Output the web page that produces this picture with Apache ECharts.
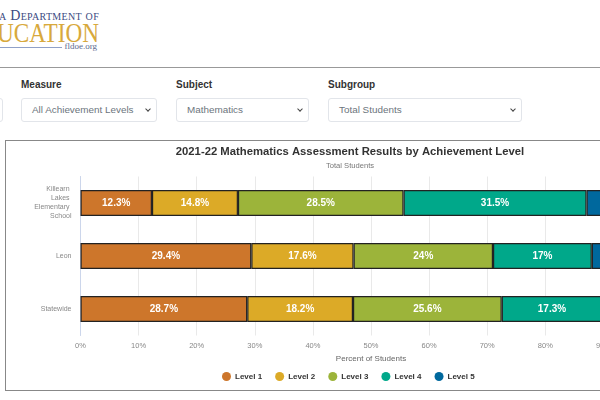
<!DOCTYPE html>
<html>
<head>
<meta charset="utf-8">
<script src="https://cdn.jsdelivr.net/npm/echarts@6/dist/echarts.min.js"></script>
<style>
  html, body { margin: 0; height: 100%; overflow: hidden; background: #fff; font-family: "Liberation Sans", Arial, sans-serif; }
  .abs { position: absolute; white-space: nowrap; }
  .logo { font-family: "Liberation Serif", serif; left: -300px; width: 399px; text-align: right; }
  .rule { position: absolute; left: 0; width: 600px; height: 1px; background: #999; }
  .lbl { font-size: 10px; font-weight: bold; color: #333; top: 79px; }
  .sel { top: 98px; height: 24px; box-sizing: border-box; border: 1px solid #e2e5ea; border-radius: 3px;
         font-size: 9.9px; line-height: 22px; padding-left: 10px; color: #6c757d; background: #fff; }
  .sel:after { content: ""; position: absolute; right: 6px; top: 8px; width: 3px; height: 3px;
         border-right: 1.2px solid #444; border-bottom: 1.2px solid #444; transform: rotate(45deg); }
  #frame { position: absolute; left: 5px; top: 140px; width: 720px; height: 251px; box-sizing: border-box; border: 1.5px solid #888; }
  #chart { position: absolute; left: 6px; top: 142px; width: 688px; height: 248px; }
</style>
</head>
<body>
<div class="abs logo" style="top:8px;font-size:14px;font-variant:small-caps;color:#3b4a82;letter-spacing:.3px">Florida Department of</div>
<div class="abs logo" style="top:18px;font-size:27px;color:#d8a93c;transform:scaleX(.86);transform-origin:right center">EDUCATION</div>
<div class="abs" style="left:0;top:47px;width:62px;height:1px;background:#8fa0c8"></div>
<div class="abs logo" style="top:41px;left:-302px;font-size:9px;color:#5a6a90">fldoe.org</div>
<div class="rule" style="top:67px"></div>

<div class="abs lbl" style="left:21px">Measure</div>
<div class="abs lbl" style="left:176px">Subject</div>
<div class="abs lbl" style="left:328px">Subgroup</div>
<div class="abs sel" style="left:-60px;width:63px"></div>
<div class="abs sel" style="left:21px;width:136px">All Achievement Levels</div>
<div class="abs sel" style="left:176px;width:133px">Mathematics</div>
<div class="abs sel" style="left:328px;width:194px">Total Students</div>

<div id="frame"></div>
<div id="chart"></div>

<script>
const categories = ['Killearn Lakes Elementary School', 'Leon', 'Statewide'];
const level1 = [12.3, 29.4, 28.7];
const level2 = [14.8, 17.6, 18.2];
const level3 = [28.5, 24, 25.6];
const level4 = [31.5, 17, 17.3];
const level5 = [12.9, 12, 10.2];
const levelNames = ['Level 1', 'Level 2', 'Level 3', 'Level 4', 'Level 5'];
const levelColors = ['#cd762b', '#dcaa27', '#9cb43a', '#00a88a', '#00689d'];

const chart = echarts.init(document.getElementById('chart'));

const series = [level1, level2, level3, level4, level5].map((vals, i) => ({
  name: levelNames[i],
  type: 'bar',
  stack: 'total',
  barWidth: 26,
  data: vals,
  itemStyle: { color: levelColors[i], borderColor: '#222', borderWidth: 1.2 },
  label: {
    show: true,
    position: 'inside',
    formatter: p => p.value + '%',
    color: '#fff',
    fontSize: 10,
    fontWeight: 'bold',
    fontFamily: 'Liberation Sans'
  }
}));

chart.setOption({
  animation: false,
  textStyle: { fontFamily: 'Liberation Sans' },
  title: {
    text: '2021-22 Mathematics Assessment Results by Achievement Level',
    subtext: 'Total Students',
    left: 'center',
    top: -1,
    itemGap: 5,
    textStyle: { fontSize: 11.3, fontWeight: 'bold', color: '#333' },
    subtextStyle: { fontSize: 7.6, color: '#777' }
  },
  legend: {
    data: levelNames,
    left: 211,
    top: 225,
    icon: 'circle',
    itemWidth: 9,
    itemHeight: 9,
    itemGap: 13,
    itemStyle: { borderWidth: 0 },
    textStyle: { fontSize: 8, fontWeight: 'bold', color: '#333', padding: [0, 0, 0, -1] }
  },
  grid: { left: 74.5, top: 34.5, width: 581, height: 159 },
  xAxis: {
    type: 'value',
    min: 0,
    max: 100,
    interval: 10,
    name: 'Percent of Students',
    nameLocation: 'middle',
    nameGap: 15,
    nameTextStyle: { fontSize: 8, color: '#666' },
    axisLine: { show: false },
    axisTick: { show: false },
    axisLabel: { formatter: '{value}%', fontSize: 7.5, color: '#888', margin: 6 },
    splitLine: { lineStyle: { color: '#e9e9e9', width: 1 } }
  },
  yAxis: {
    type: 'category',
    inverse: true,
    data: categories,
    axisLine: { lineStyle: { color: '#ccd6eb', width: 1 } },
    axisTick: { show: false },
    axisLabel: {
      fontSize: 7,
      color: '#888',
      margin: 9,
      width: 40,
      overflow: 'break',
      align: 'right',
      lineHeight: 9
    }
  },
  series: series
});
</script>
</body>
</html>
